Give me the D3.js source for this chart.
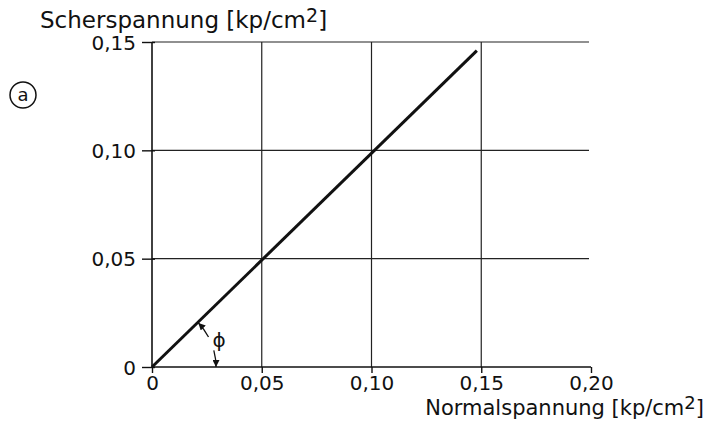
<!DOCTYPE html>
<html lang="en">
<head>
<meta charset="UTF-8">
<title>Scherspannung</title>
<script src="https://d3js.org/d3.v7.min.js"></script>
<style>
    body { margin: 0; background: #fff; }
    text { font-family: "DejaVu Sans", sans-serif; fill: #111; }
</style>
</head>
<body>
<div id="chart"></div>
<script>
    // data
    var xTicks = [0, 0.05, 0.10, 0.15, 0.20];
    var yTicks = [0, 0.05, 0.10, 0.15];
    var lineX = [0, 0.148];
    var lineY = [0, 0.146];
    var phiFrom = 0;      // angle of x axis
    var phiTo = 44.5;     // angle of the line, degrees on screen

    var width = 712, height = 424;
    var fmt = function(d) { return d === 0 ? "0" : d.toFixed(2).replace(".", ","); };

    var svg = d3.select("#chart").append("svg")
        .attr("width", width)
        .attr("height", height);

    var x = d3.scaleLinear().domain([0, 0.2]).range([152, 591]);
    var y = d3.scaleLinear().domain([0, 0.15]).range([367, 42]);

    svg.append("defs").append("marker")
        .attr("id", "arr")
        .attr("viewBox", "0 0 10 10")
        .attr("refX", 10).attr("refY", 5)
        .attr("markerWidth", 7).attr("markerHeight", 7)
        .attr("markerUnits", "userSpaceOnUse")
        .attr("orient", "auto")
        .append("path")
        .attr("d", "M0,0 L10,5 L0,10 z")
        .attr("fill", "#111");

    // horizontal grid
    svg.selectAll(".hgrid")
        .data(yTicks.filter(function(d) { return d > 0; }))
        .enter().append("line")
        .attr("x1", x(0)).attr("x2", x(0.2) - 2)
        .attr("y1", function(d) { return y(d); })
        .attr("y2", function(d) { return y(d); })
        .attr("stroke", "#222").attr("stroke-width", 1.2);

    // vertical grid
    svg.selectAll(".vgrid")
        .data(xTicks.filter(function(d) { return d > 0 && d < 0.2; }))
        .enter().append("line")
        .attr("x1", function(d) { return x(d); })
        .attr("x2", function(d) { return x(d); })
        .attr("y1", y(0)).attr("y2", y(0.15))
        .attr("stroke", "#222").attr("stroke-width", 1.2);

    // axes
    var xAxis = d3.axisBottom(x).tickValues(xTicks).tickFormat(fmt).tickSize(6).tickPadding(1);
    var yAxis = d3.axisLeft(y).tickValues(yTicks).tickFormat(fmt).tickSize(10).tickPadding(6);

    var gx = svg.append("g").attr("transform", "translate(0," + y(0) + ")").call(xAxis);
    var gy = svg.append("g").attr("transform", "translate(" + x(0) + ",0)").call(yAxis);

    [gx, gy].forEach(function(g) {
        g.select(".domain").attr("stroke", "#111").attr("stroke-width", 1.6);
        g.selectAll(".tick line").attr("stroke", "#111").attr("stroke-width", 1.4);
        g.selectAll(".tick text").attr("font-size", 20)
            .attr("font-family", "'DejaVu Sans', sans-serif")
            .attr("fill", "#111");
    });
    gx.select(".domain").attr("d", "M" + x(0) + ",0H" + x(0.2));
    gy.select(".domain").attr("d", "M0," + y(0) + "V" + y(0.15));
    gy.selectAll(".tick line").attr("x2", -10).attr("x1", 3);
    gx.selectAll(".tick text").attr("dy", "0.8em");
    gy.selectAll(".tick text").attr("dy", "0.36em");

    // shear line
    var line = d3.line()
        .x(function(d) { return x(d[0]); })
        .y(function(d) { return y(d[1]); });
    svg.append("path")
        .datum(d3.zip(lineX, lineY))
        .attr("d", line)
        .attr("fill", "none")
        .attr("stroke", "#111")
        .attr("stroke-width", 3);

    // angle phi
    var cx = x(0), cy = y(0), r = 64;
    var rad = Math.PI / 180;
    var p1 = d3.path();
    p1.arc(cx, cy, r, -28 * rad, -(phiTo - 1) * rad, true);
    svg.append("path").attr("d", p1.toString())
        .attr("fill", "none").attr("stroke", "#111").attr("stroke-width", 1.3)
        .attr("marker-end", "url(#arr)");
    var p2 = d3.path();
    p2.arc(cx, cy, r, -15 * rad, -phiFrom * rad, false);
    svg.append("path").attr("d", p2.toString())
        .attr("fill", "none").attr("stroke", "#111").attr("stroke-width", 1.3)
        .attr("marker-end", "url(#arr)");
    svg.append("text")
        .attr("x", 219).attr("y", 347)
        .attr("text-anchor", "middle")
        .attr("font-size", 20)
        .text("\u03D5");

    // axis titles
    var ty = svg.append("text").attr("x", 40).attr("y", 28).attr("font-size", 23);
    ty.append("tspan").text("Scherspannung [kp/cm");
    ty.append("tspan").attr("dy", -6).attr("font-size", 19).text("2");
    ty.append("tspan").attr("dy", 6).text("]");

    var tx = svg.append("text").attr("x", 704).attr("y", 415).attr("text-anchor", "end").attr("font-size", 21);
    tx.append("tspan").text("Normalspannung [kp/cm");
    tx.append("tspan").attr("dy", -6).attr("font-size", 18).text("2");
    tx.append("tspan").attr("dy", 6).text("]");

    // panel label
    svg.append("circle").attr("cx", 23).attr("cy", 95).attr("r", 13)
        .attr("fill", "none").attr("stroke", "#111").attr("stroke-width", 1.5);
    svg.append("text").attr("x", 23).attr("y", 101)
        .attr("text-anchor", "middle").attr("font-size", 18).text("a");
</script>
</body>
</html>
